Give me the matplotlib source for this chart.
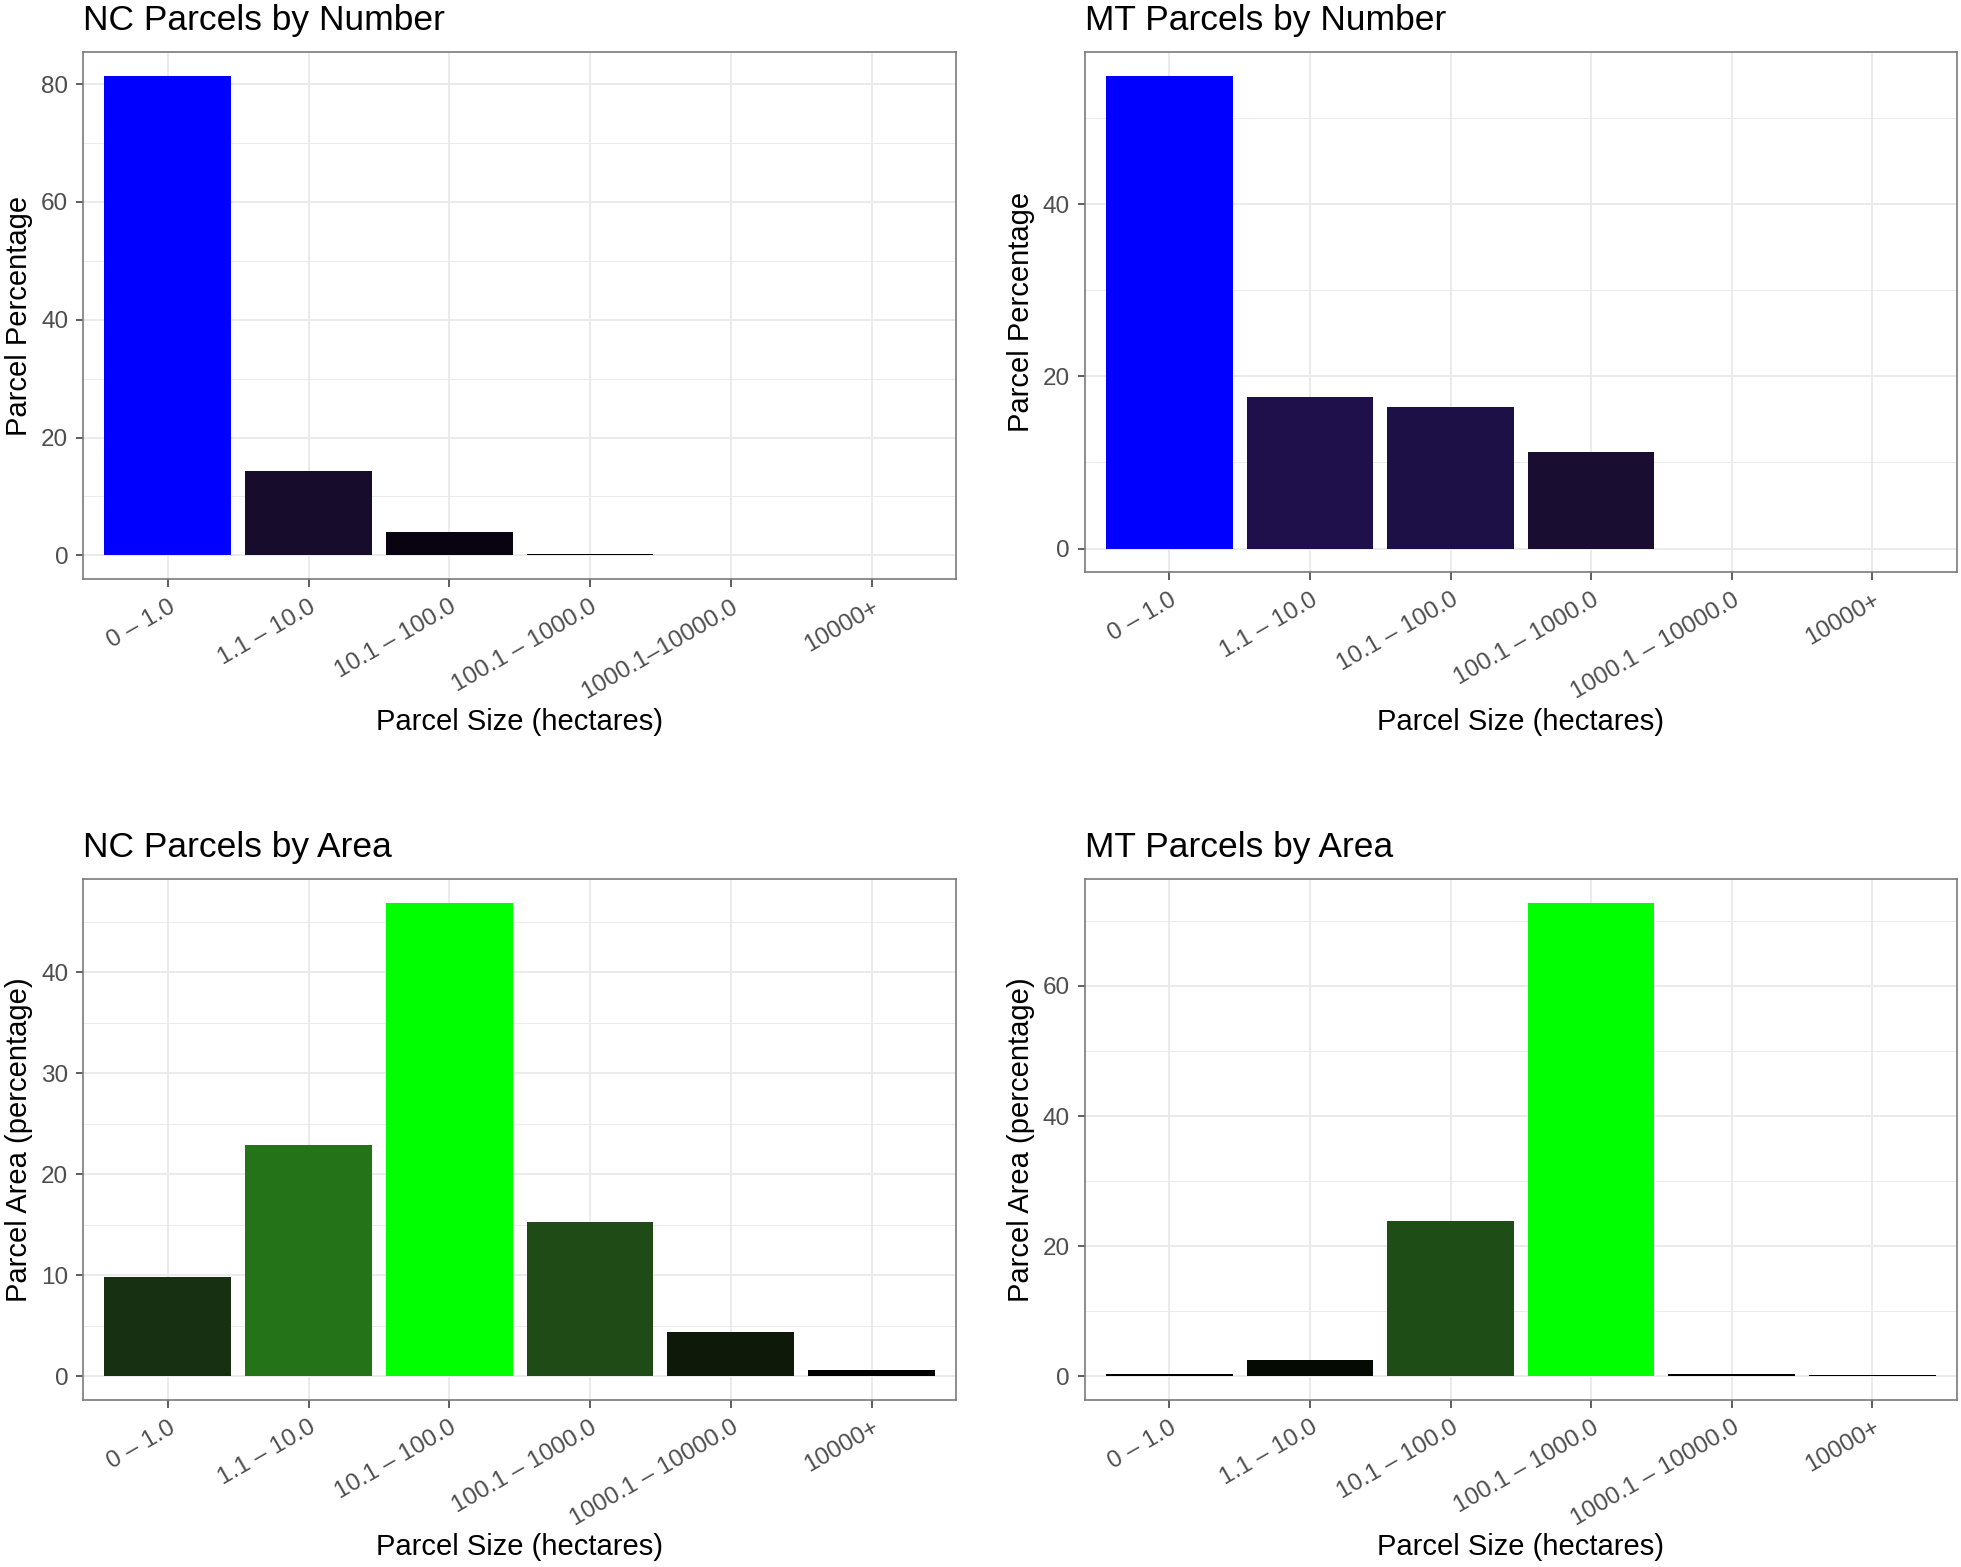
import numpy as np
import matplotlib
matplotlib.use("Agg")
import matplotlib.pyplot as plt
from matplotlib.colors import ListedColormap, Normalize, to_rgb
from matplotlib.ticker import MultipleLocator

plt.rcParams['font.family'] = ['Liberation Sans', 'DejaVu Sans']

# size classes (hectares)
size_labels = ["0 – 1.0", "1.1 – 10.0", "10.1 – 100.0", "100.1 – 1000.0", "1000.1 – 10000.0", "10000+"]
nc_number_labels = ["0 – 1.0", "1.1 – 10.0", "10.1 – 100.0", "100.1 – 1000.0", "1000.1–10000.0", "10000+"]

# percentages
nc_number = [81.4, 14.4, 3.9, 0.2, 0.0, 0.0]
mt_number = [54.9, 17.6, 16.4, 11.2, 0.0, 0.0]
nc_area = [9.8, 22.9, 46.9, 15.3, 4.4, 0.6]
mt_area = [0.4, 2.5, 23.8, 72.8, 0.3, 0.25]

# --- ggplot style gradient (interpolated in Lab space) ---
M = np.array([[0.4124, 0.3576, 0.1805],
              [0.2126, 0.7152, 0.0722],
              [0.0193, 0.1192, 0.9505]])
Minv = np.linalg.inv(M)
white = np.array([0.95047, 1.0, 1.08883])
d = 6 / 29


def to_lab(rgb):
    c = np.asarray(rgb, float)
    lin = np.where(c <= 0.04045, c / 12.92, ((c + 0.055) / 1.055) ** 2.4)
    xyz = (M @ lin) / white
    f = np.where(xyz > d ** 3, np.cbrt(xyz), xyz / (3 * d * d) + 4 / 29)
    return np.array([116 * f[1] - 16, 500 * (f[0] - f[1]), 200 * (f[1] - f[2])])


def from_lab(lab):
    L, a, b = lab
    fy = (L + 16) / 116
    f = np.array([fy + a / 500, fy, fy - b / 200])
    xyz = np.where(f > d, f ** 3, 3 * d * d * (f - 4 / 29)) * white
    lin = np.clip(Minv @ xyz, 0, 1)
    c = np.where(lin <= 0.0031308, 12.92 * lin, 1.055 * lin ** (1 / 2.4) - 0.055)
    return np.clip(c, 0, 1)


def lab_cmap(high):
    lo = to_lab((0, 0, 0))
    hi = to_lab(to_rgb(high))
    return ListedColormap([from_lab(lo + t * (hi - lo)) for t in np.linspace(0, 1, 256)])


blue_map = lab_cmap("#0000FF")
green_map = lab_cmap("#00FF00")

fig = plt.figure(figsize=(19.61, 15.67), dpi=100)

W, H = 1961, 1567
boxes = [(83.3, 52, 956, 579.3), (1085, 52, 1956.7, 572.3),
         (83.3, 879, 956, 1400), (1085, 879, 1956.7, 1400)]

panels = [
    (nc_number, nc_number_labels, blue_map, "NC Parcels by Number", "Parcel Percentage", 20),
    (mt_number, size_labels, blue_map, "MT Parcels by Number", "Parcel Percentage", 20),
    (nc_area, size_labels, green_map, "NC Parcels by Area", "Parcel Area (percentage)", 10),
    (mt_area, size_labels, green_map, "MT Parcels by Area", "Parcel Area (percentage)", 20),
]
xlabel_top = [708, 708, 1533, 1533]

for (vals, labels, cmap, title, ylab, step), (x0, y0, x1, y1), xl in zip(panels, boxes, xlabel_top):
    ax = fig.add_axes([x0 / W, 1 - y1 / H, (x1 - x0) / W, (y1 - y0) / H])
    x = np.arange(len(vals))
    norm = Normalize(vmin=min(vals), vmax=max(vals))
    ax.bar(x, vals, width=0.9, color=cmap(norm(np.array(vals))), zorder=2)
    ax.set_xlim(-0.6, len(vals) - 0.4)
    ax.set_ylim(-0.05 * max(vals), 1.05 * max(vals))
    ax.set_axisbelow(True)

    ax.yaxis.set_major_locator(MultipleLocator(step))
    ax.yaxis.set_minor_locator(MultipleLocator(step / 2))
    ax.grid(which='major', color='#EBEBEB', lw=1.4)
    ax.grid(which='minor', axis='y', color='#EBEBEB', lw=0.7)
    ax.tick_params(which='minor', length=0)
    ax.tick_params(which='major', length=5.4, width=1.1, color='#333333',
                   labelcolor='#4D4D4D', labelsize=17.5, pad=5.5)
    ax.tick_params(axis='x', pad=6.5)

    ax.set_xticks(x)
    ax.set_xticklabels(labels, rotation=30, ha='right', va='top', rotation_mode='anchor')
    for s in ax.spines.values():
        s.set_color('#7A7A7A')
        s.set_linewidth(1.2)

    ax.set_title(title, loc='left', fontsize=25.5, pad=15.5)
    ax.set_xlabel("Parcel Size (hectares)", fontsize=21)
    ax.xaxis.set_label_coords(0.5, (y1 - xl) / (y1 - y0))
    ax.set_ylabel(ylab, fontsize=21)
    ax.yaxis.set_label_coords(-50 / (x1 - x0), 0.5)

fig.savefig("out.png", dpi=100)
